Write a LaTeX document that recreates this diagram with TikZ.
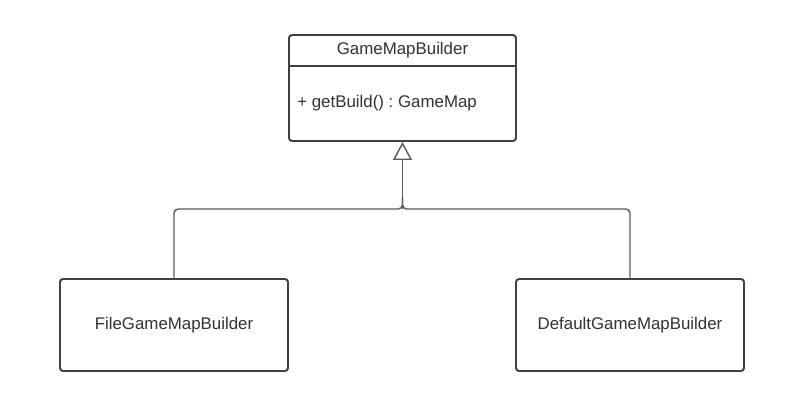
\documentclass[tikz,border=0pt]{standalone}
\usepackage{fontspec}
\setmainfont{Liberation Sans}
\frenchspacing
\usetikzlibrary{arrows.meta,positioning}
\definecolor{cline}{HTML}{404040}
\definecolor{cconn}{HTML}{5A5A5A}
\definecolor{ctext}{HTML}{333333}

\begin{document}
\begin{tikzpicture}[
  font=\fontsize{12pt}{14pt}\selectfont,
  cls/.style={draw=cline,line width=1.4pt,fill=white,rounded corners=2.2pt,
              minimum width=5.7cm,minimum height=2.3cm,align=center,text=ctext,inner sep=0pt},
  top/.style={cls,minimum width=5.675cm,minimum height=2.65cm},
  txt/.style={text=ctext,inner sep=0pt},
  gen/.style={draw=cconn,line width=1pt,rounded corners=3pt},
  tip/.style={-{Triangle[open,length=12.8pt,width=13.5pt,line width=1pt]},draw=cconn,line width=1pt}]
\useasboundingbox (0,0) rectangle (19.925,10.175);

% ----------------------------- base class ---------------------------------
\node[top] (gmb) at (10.0625,7.975) {};
\node[txt] (gmbname) at (10.0625,8.925) {GameMapBuilder};
\draw[draw=cline,line width=1.4pt] ([yshift=-0.8cm]gmb.north west) -- ([yshift=-0.8cm]gmb.north east);
\node[txt,anchor=west] (gmbop) at (7.425,7.6) {+ getBuild() : GameMap};

% ---------------------------- subclasses ----------------------------------
\node[cls] (file) at (4.35,2.05)  {FileGameMapBuilder};
\node[cls] (dflt) at (15.75,2.05) {DefaultGameMapBuilder};

% ---------------------------- generalisation ------------------------------
\coordinate (join) at (gmb.south |- 0,4.95);
\draw[gen] (file.north) |- (join) -- ([yshift=0.3cm]join);
\draw[gen] (dflt.north) |- (join) -- ([yshift=0.3cm]join);
\draw[tip] (join) -- (gmb.south);
\end{tikzpicture}
\end{document}
